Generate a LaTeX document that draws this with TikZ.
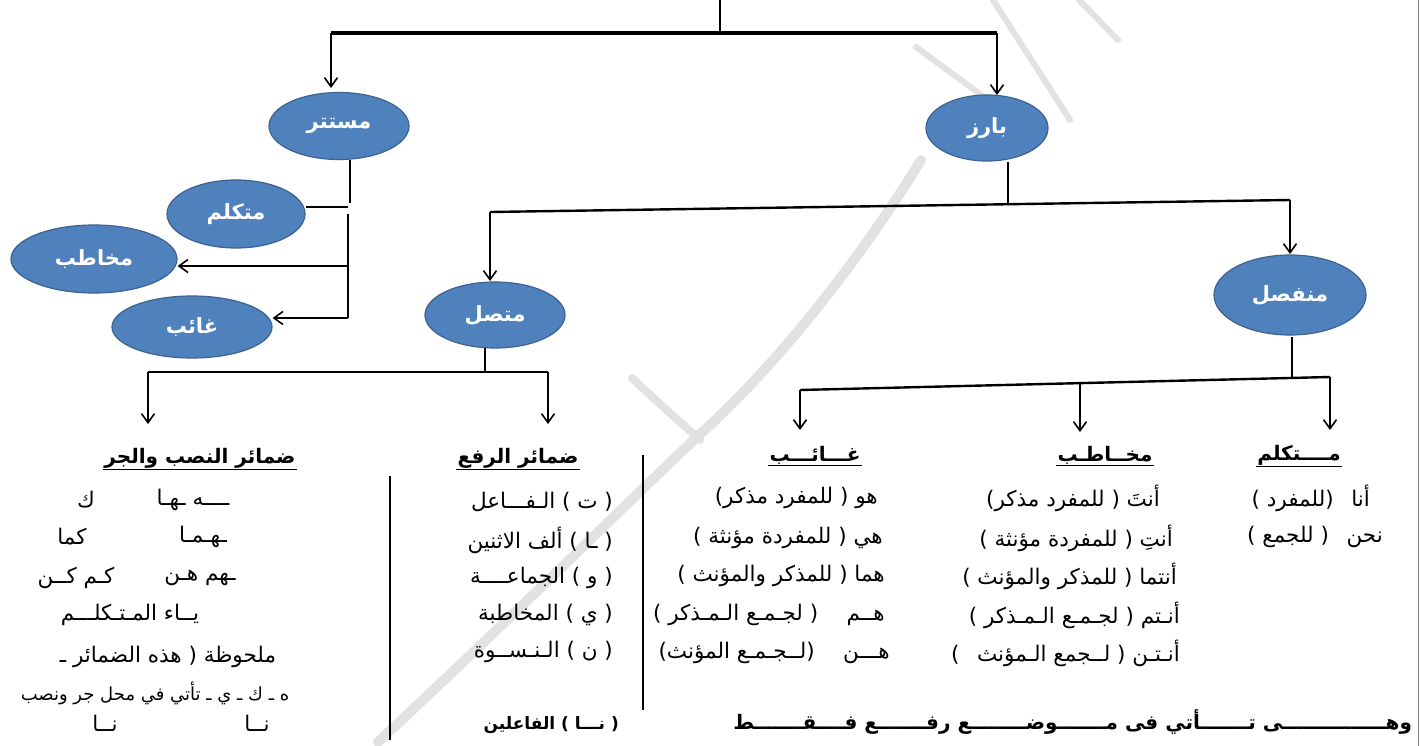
\documentclass[tikz,border=0pt]{standalone}
\usepackage{fontspec}
\usetikzlibrary{arrows.meta,shapes.geometric}
\TeXXeTstate=1
\newfontfamily\arb[Script=Arabic]{DejaVu Sans}
\newcommand{\AR}[1]{\beginR #1\endR}
\definecolor{bubfill}{RGB}{79,129,189}
\definecolor{bubdraw}{RGB}{60,98,145}
\definecolor{wmark}{RGB}{226,226,226}
\tikzset{
  bub/.style={ellipse, fill=bubfill, draw=bubdraw, line width=1.2pt, inner sep=0pt, text=white, font=\arb\bfseries\fontsize{21}{24}\selectfont},
  ln/.style={line width=2.4pt},
  arr/.style={line width=1.6pt, -{Straight Barb[length=9pt,width=13pt,line width=1.6pt]}},
  item/.style={font=\arb\fontsize{21.5}{23}\selectfont, inner sep=0pt},
  head/.style={font=\arb\bfseries\fontsize{20}{22}\selectfont, inner sep=1pt},
  sep/.style={line width=2pt},
  uline/.style={line width=1.2pt}
}
\begin{document}
\begin{tikzpicture}[x=1pt,y=-1pt]
\useasboundingbox (0,0) rectangle (1421,746);
\fill[white] (0,0) rectangle (1421,746);
% watermark
\draw[wmark, line width=10pt, line cap=round] (378,742) .. controls (520,610) and (650,480) .. (710,425) .. controls (780,360) and (860,260) .. (921,160);
\draw[wmark, line width=8pt, line cap=round] (632,378) .. controls (655,400) and (678,420) .. (700,440);
\draw[wmark, line width=6pt, line cap=round] (993,0) -- (1070,120);
\draw[wmark, line width=6pt, line cap=round] (1079,0) -- (1118,40);
\draw[wmark, line width=6pt, line cap=round] (916,47) -- (988,100);
% border
\draw[gray, line width=1pt] (1418,0) -- (1418,746);
% bubbles
\node[bub, minimum width=140pt, minimum height=67pt] (must) at (339,126) {\AR{مستتر}};
\node[bub, minimum width=122pt, minimum height=66pt] (bariz) at (987,128) {\AR{بارز}};
\node[bub, minimum width=138pt, minimum height=68pt] (mutak) at (236,214) {\AR{متكلم}};
\node[bub, minimum width=166pt, minimum height=68pt] (mukh) at (94,259) {\AR{مخاطب}};
\node[bub, minimum width=160pt, minimum height=62pt] (ghaib) at (192,327) {\AR{غائب}};
\node[bub, minimum width=140pt, minimum height=66pt] (mutta) at (495,315) {\AR{متصل}};
\node[bub, minimum width=152pt, minimum height=80pt] (munf) at (1290,295) {\AR{منفصل}};
% top connectors
\coordinate (t0) at (720,0);
\coordinate (t1) at (720,33);
\coordinate (tl) at (331,33);
\coordinate (tr) at (997,33);
\draw[ln] (t0) -- (t1);
\draw[line width=3.2pt] (tl) -- (tr);
\draw[arr] (tl) -- (331,88);
\draw[arr] (tr) -- (997,95);
% bariz branch
\coordinate (b0) at (1008,162);
\coordinate (b1) at (1008,204);
\coordinate (bl) at (490,212);
\coordinate (br) at (1290,200);
\draw[ln] (b0) -- (b1);
\draw[ln] (bl) -- (br);
\draw[arr] (bl) -- (490,281);
\draw[arr] (br) -- (1290,254);
% muttasil branch
\coordinate (m0) at (485,348);
\coordinate (m1) at (485,372);
\coordinate (ml) at (148,372);
\coordinate (mr) at (548,372);
\coordinate (mlh) at (148,424);
\coordinate (mrh) at (548,424);
\draw[ln] (m0) -- (m1);
\draw[ln] (ml) -- (mr);
\draw[arr] (ml) -- (mlh);
\draw[arr] (mr) -- (mrh);
% munfasil branch
\coordinate (n0) at (1292,337);
\coordinate (n1) at (1292,378);
\coordinate (nl) at (800,390);
\coordinate (nm) at (1080,383);
\coordinate (nr) at (1330,377);
\draw[ln] (n0) -- (n1);
\draw[ln] (nl) -- (nr);
\draw[arr] (nl) -- (800,430);
\draw[arr] (nm) -- (1080,432);
\draw[arr] (nr) -- (1330,430);
% mustatir branch
\coordinate (s0) at (350,160);
\coordinate (s1) at (350,203);
\coordinate (s2) at (348,207);
\coordinate (s3) at (348,214);
\coordinate (s4) at (348,266);
\coordinate (s5) at (348,318);
\draw[ln] (s0) -- (s1);
\draw[line width=1.6pt] (mutak.east |- s2) -- (s2);
\draw[line width=1.6pt] (s3) -- (s5);
\draw[arr] (s4) -- (mukh.east |- s4);
\draw[arr] (s5) -- (ghaib.east |- s5);
% separators
\draw[sep] (390,476) -- (390,740);
\draw[sep] (643,455) -- (643,710);
% headings
\node[head] (hnasb) at (200,458) {\AR{ضمائر النصب والجر}};
\node[head] (hraf) at (518,458) {\AR{ضمائر الرفع}};
\node[head] (hgh) at (815,455) {\AR{غـــائـــب}};
\node[head] (hmk) at (1105,455) {\AR{مخــاطـب}};
\node[head] (hmt) at (1299,455) {\AR{مــــتكلم}};
\foreach \h in {hnasb,hraf,hgh,hmk,hmt} \draw[uline] (\h.south west) -- (\h.south east);
% nasb column
\node[item] (a1) at (193,500) {\AR{ــــه ـهـا}};
\node[item] (a1b) at (86,500) {\AR{ك}};
\node[item] (a2) at (203,537) {\AR{ـهـمـا}};
\node[item] (a2b) at (72,537) {\AR{كما}};
\node[item] (a3) at (200,578) {\AR{ـهم هـن}};
\node[item] (a3b) at (76,578) {\AR{كـم كــن}};
\node[item] (a4) at (130,615) {\AR{يــاء المـتـكلـــم}};
\node[item] (a5) at (168,657) {\AR{ملحوظة ( هذه الضمائر ـ}};
\node[item, font=\arb\fontsize{18}{20}\selectfont] (a6) at (155,693) {\AR{ه ـ ك ـ ي ـ تأتي في محل جر ونصب}};
\node[item] (a7) at (257,723) {\AR{نــا}};
\node[item] (a7b) at (105,723) {\AR{نــا}};
% raf column
\node[item, anchor=east] (r1) at (613,502) {\AR{( ت ) الـفـــاعل}};
\node[item, anchor=east] (r2) at (613,540) {\AR{( ـا ) ألف الاثنين}};
\node[item, anchor=east] (r3) at (613,578) {\AR{( و ) الجماعــــة}};
\node[item, anchor=east] (r4) at (613,615) {\AR{( ي ) المخاطبة}};
\node[item, anchor=east] (r5) at (613,652) {\AR{( ن ) الـنـســوة}};
\node[head, anchor=east, font=\arb\bfseries\fontsize{17}{19}\selectfont] (r6) at (620,725) {\AR{( نـــا ) الفاعلين}};
% ghaib column
\node[item, anchor=east] (g1) at (878,498) {\AR{هو ( للمفرد مذكر)}};
\node[item, anchor=east] (g2) at (883,538) {\AR{هي ( للمفردة مؤنثة )}};
\node[item, anchor=east] (g3) at (885,576) {\AR{هما ( للمذكر والمؤنث )}};
\node[item, anchor=east] (g4) at (885,615) {\AR{هــم \quad ( لجـمـع الـمـذكر )}};
\node[item, anchor=east] (g5) at (890,653) {\AR{هـــن \quad (لــجـمـع المؤنث)}};
% mukhatab column
\node[item, anchor=east] (k1) at (1160,498) {\AR{أنتَ ( للمفرد مذكر)}};
\node[item, anchor=east] (k2) at (1173,538) {\AR{أنتِ ( للمفردة مؤنثة )}};
\node[item, anchor=east] (k3) at (1177,576) {\AR{أنتما ( للمذكر والمؤنث )}};
\node[item, anchor=east] (k4) at (1180,615) {\AR{أنـتم ( لجـمـع الـمـذكر )}};
\node[item, anchor=east] (k5) at (1180,653) {\AR{أنـتـن ( لــجمع الـمؤنث \enspace)}};
% mutakallim column
\node[item, anchor=east] (c1) at (1370,498) {\AR{أنا \enspace (للمفرد )}};
\node[item, anchor=east] (c2) at (1383,537) {\AR{نحن \enspace ( للجمع )}};
% bottom note
\node[head, anchor=east] (note) at (1413,722) {\AR{وهـــــــــــــــى تـــــــأتي فى مـــــــوضــــــــع رفـــــــع فــــقـــــــط}};
\end{tikzpicture}
\end{document}
